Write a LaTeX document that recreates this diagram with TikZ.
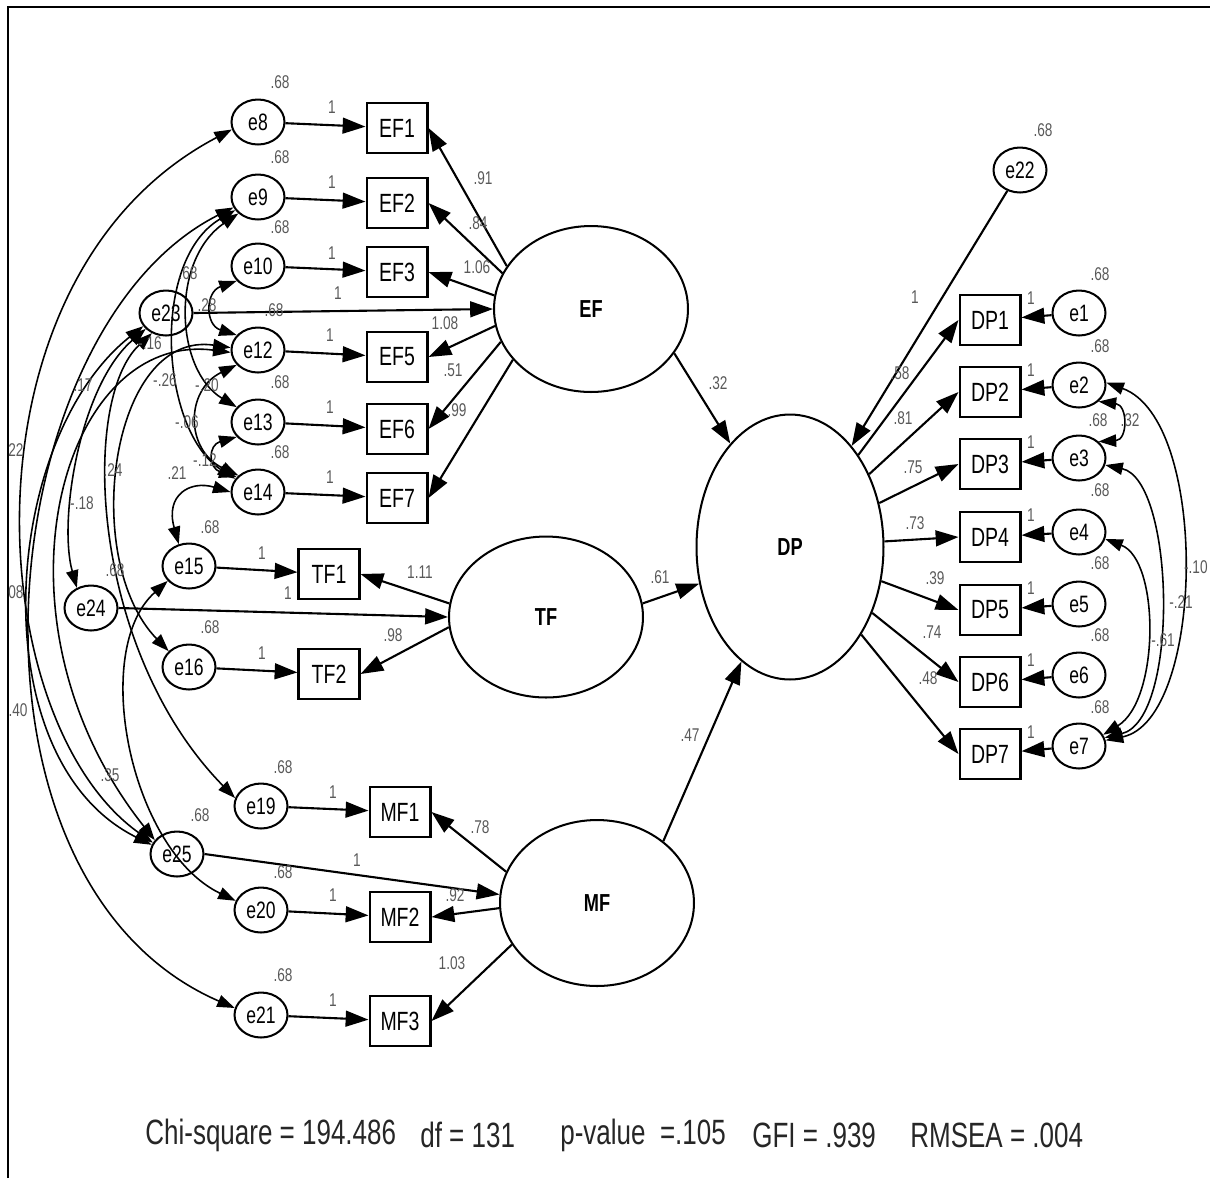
\documentclass[tikz,border=0pt]{standalone}
\usepackage{fontspec}
\setmainfont{Liberation Sans}[FakeStretch=0.74]
\usetikzlibrary{shapes.geometric,arrows.meta}
\newcounter{lblc}
\newcommand\numlab[2]{\stepcounter{lblc}\node[num] (lab\arabic{lblc}) at (#1) {#2};}
\begin{document}
\begin{tikzpicture}[x=0.02cm,y=-0.02cm,
 err/.style={ellipse,draw,line width=1.15pt,minimum width=1.06cm,minimum height=0.9cm,inner sep=0pt,font=\fontsize{13.5}{15}\selectfont},
 obs/.style={rectangle,draw,line width=1.15pt,minimum width=1.22cm,minimum height=1.0cm,inner sep=0pt,font=\fontsize{15}{17}\selectfont},
 lat/.style={ellipse,draw,line width=1.15pt,minimum width=3.88cm,minimum height=3.32cm,inner sep=0pt,font=\bfseries\fontsize{14}{16}\selectfont},
 num/.style={inner sep=0pt,text=black!65,font=\fontsize{10.5}{12}\selectfont},
 reg/.style={line width=1.2pt,-{Triangle[length=13pt,width=9pt]}},
 cov/.style={line width=0.9pt,{Triangle[length=10pt,width=7pt]}-{Triangle[length=10pt,width=7pt]}},
 stat/.style={inner sep=0pt,anchor=west,text=black!85,font=\fontsize{20}{24}\selectfont}
]
\useasboundingbox (0,0) rectangle (1210,1178);
\draw[line width=1.1pt] (8,1178) -- (8,7) -- (1210,7);

% error terms left
\node[err] (e8) at (258,122) {e8};
\node[err] (e9) at (258,197) {e9};
\node[err] (e10) at (258,266) {e10};
\node[err] (e12) at (258,350) {e12};
\node[err] (e13) at (258,422) {e13};
\node[err] (e14) at (258,492) {e14};
\node[err] (e23) at (166,313) {e23};
\node[err] (e15) at (189,566) {e15};
\node[err] (e24) at (91,608) {e24};
\node[err] (e16) at (189,667) {e16};
\node[err] (e19) at (261,806) {e19};
\node[err] (e25) at (177,854) {e25};
\node[err] (e20) at (261,910) {e20};
\node[err] (e21) at (261,1015) {e21};
\node[err] (e22) at (1020,170) {e22};
\node[err] (e1) at (1079,313) {e1};
\node[err] (e2) at (1079,385) {e2};
\node[err] (e3) at (1079,458) {e3};
\node[err] (e4) at (1079,532) {e4};
\node[err] (e5) at (1079,604) {e5};
\node[err] (e6) at (1079,675) {e6};
\node[err] (e7) at (1079,746) {e7};

% observed
\node[obs] (EF1) at (397,128) {EF1};
\node[obs] (EF2) at (397,203) {EF2};
\node[obs] (EF3) at (397,272) {EF3};
\node[obs] (EF5) at (397,357) {EF5};
\node[obs] (EF6) at (397,429) {EF6};
\node[obs] (EF7) at (397,498) {EF7};
\node[obs] (TF1) at (329,574) {TF1};
\node[obs] (TF2) at (329,674) {TF2};
\node[obs] (MF1) at (400,812) {MF1};
\node[obs] (MF2) at (400,917) {MF2};
\node[obs] (MF3) at (400,1021) {MF3};
\node[obs] (DP1) at (990,320) {DP1};
\node[obs] (DP2) at (990,392) {DP2};
\node[obs] (DP3) at (990,464) {DP3};
\node[obs] (DP4) at (990,537) {DP4};
\node[obs] (DP5) at (990,610) {DP5};
\node[obs] (DP6) at (990,682) {DP6};
\node[obs] (DP7) at (990,754) {DP7};

% latent
\node[lat] (EF) at (591,309) {EF};
\node[lat,minimum height=3.22cm] (TF) at (546,617) {TF};
\node[lat] (MF) at (597,903) {MF};
\node[lat,minimum width=3.74cm,minimum height=5.3cm] (DP) at (790,547) {DP};

% error -> indicator
\foreach \a/\b in {e8/EF1,e9/EF2,e10/EF3,e12/EF5,e13/EF6,e14/EF7,e15/TF1,e16/TF2,e19/MF1,e20/MF2,e21/MF3,e1/DP1,e2/DP2,e3/DP3,e4/DP4,e5/DP5,e6/DP6,e7/DP7}
  \draw[reg] (\a) -- (\b);

% loadings
\draw[reg] (EF.153) -- (EF1.east);
\draw[reg] (EF.158) -- (EF2.east);
\draw[reg] (EF.172) -- (EF3.east);
\draw[reg] (e23.east) -- (EF.west);
\draw[reg] (EF.190) -- (EF5.east);
\draw[reg] (EF.200) -- (EF6.east);
\draw[reg] (EF.213) -- (EF7.east);
\draw[reg] (TF.172) -- (TF1.east);
\draw[reg] (TF.186) -- (TF2.east);
\draw[reg] (e24.east) -- (TF.west);
\draw[reg] (MF.161) -- (MF1.east);
\draw[reg] (e25.east) -- (MF.175);
\draw[reg] (MF.183) -- (MF2.east);
\draw[reg] (MF.206) -- (MF3.east);
\draw[reg] (EF.332) -- (DP.120);
\draw[reg] (TF.8) -- (DP.202);
\draw[reg] (MF.43) -- (DP.247);
\draw[reg] (e22) -- (DP);
\foreach \b in {DP1,DP2,DP3,DP4,DP5,DP6,DP7}
  \draw[reg] (DP) -- (\b.west);

% covariances left
\draw[cov] (e8.196) .. controls (-45,275) and (-20,720) .. (e25.155);
\draw[cov] (e9.203) .. controls (-10,330) and (-60,880) .. (e21.165);
\draw[cov] (e23.210) .. controls (0,440) and (-20,760) .. (e25.160);
\draw[cov] (e23.218) .. controls (80,385) and (58,520) .. (e24.125);
\draw[cov] (e23.235) .. controls (80,400) and (90,650) .. (e19.163);
\draw[cov] (e12.185) .. controls (60,330) and (-20,620) .. (e25.148);
\draw[cov] (e12.175) .. controls (110,330) and (80,560) .. (e16.142);
\draw[cov] (e10.215) .. controls (205,292) and (205,325) .. (e12.145);
\draw[cov] (e9.210) .. controls (150,260) and (160,430) .. (e14.150);
\draw[cov] (e9.220) .. controls (170,260) and (175,370) .. (e13.145);
\draw[cov] (e12.215) .. controls (185,390) and (185,450) .. (e14.140);
\draw[cov] (e13.215) .. controls (208,445) and (208,468) .. (e14.145);
\draw[cov] (e14.180) .. controls (190,480) and (165,495) .. (e15.115);
\draw[cov] (e15.215) .. controls (90,650) and (130,850) .. (e20.160);

% covariances right
\draw[cov] (e2.-40) .. controls (1128,405) and (1128,440) .. (e3.40);
\draw[cov] (e2.5) .. controls (1210,420) and (1205,720) .. (e7.12);
\draw[cov] (e3.-15) .. controls (1175,480) and (1180,720) .. (e7.18);
\draw[cov] (e4.-15) .. controls (1160,560) and (1160,700) .. (e7.25);

% variances
\numlab{280,82}{.68}
\numlab{280,157}{.68}
\numlab{280,227}{.68}
\numlab{274,310}{.68}
\numlab{280,382}{.68}
\numlab{280,452}{.68}
\numlab{188,273}{.68}
\numlab{210,527}{.68}
\numlab{210,627}{.68}
\numlab{115,570}{.68}
\numlab{283,767}{.68}
\numlab{200,815}{.68}
\numlab{283,872}{.68}
\numlab{283,975}{.68}
\numlab{1043,130}{.68}
\numlab{1100,274}{.68}
\numlab{1100,346}{.68}
\numlab{1098,420}{.68}
\numlab{1100,490}{.68}
\numlab{1100,563}{.68}
\numlab{1100,635}{.68}
\numlab{1100,707}{.68}

% fixed 1s
\numlab{332,107}{1}
\numlab{332,182}{1}
\numlab{332,253}{1}
\numlab{338,293}{1}
\numlab{330,335}{1}
\numlab{330,407}{1}
\numlab{330,477}{1}
\numlab{262,553}{1}
\numlab{288,593}{1}
\numlab{262,653}{1}
\numlab{333,792}{1}
\numlab{357,860}{1}
\numlab{333,895}{1}
\numlab{333,1000}{1}
\numlab{915,297}{1}
\numlab{1031,298}{1}
\numlab{1031,370}{1}
\numlab{1031,442}{1}
\numlab{1031,515}{1}
\numlab{1031,588}{1}
\numlab{1031,660}{1}
\numlab{1031,732}{1}

% path estimates
\numlab{483,178}{.91}
\numlab{478,223}{.84}
\numlab{477,267}{1.06}
\numlab{445,323}{1.08}
\numlab{453,370}{.51}
\numlab{457,410}{.99}
\numlab{718,383}{.32}
\numlab{420,572}{1.11}
\numlab{393,635}{.98}
\numlab{660,577}{.61}
\numlab{480,827}{.78}
\numlab{455,895}{.92}
\numlab{452,963}{1.03}
\numlab{690,735}{.47}
\numlab{900,373}{.58}
\numlab{903,418}{.81}
\numlab{913,467}{.75}
\numlab{915,523}{.73}
\numlab{935,578}{.39}
\numlab{932,632}{.74}
\numlab{928,678}{.48}

% covariance estimates
\numlab{16,450}{22}
\numlab{16,592}{08}
\numlab{18,710}{.40}
\numlab{83,385}{.17}
\numlab{113,470}{.24}
\numlab{82,503}{-.18}
\numlab{110,775}{.35}
\numlab{150,343}{-.16}
\numlab{207,305}{.28}
\numlab{165,380}{-.26}
\numlab{207,385}{-.20}
\numlab{187,422}{-.06}
\numlab{205,460}{-.12}
\numlab{177,473}{.21}
\numlab{1130,420}{.32}
\stepcounter{lblc}\node[num,anchor=east] (lab\arabic{lblc}) at (1208,567) {-.10};
\numlab{1181,602}{-.21}
\numlab{1163,640}{-.61}

% fit statistics
\node[stat] (s1) at (145,1135) {Chi-square = 194.486};
\node[stat] (s2) at (420,1135) {df = 131};
\node[stat] (s3) at (560,1135) {p-value\ \ =.105};
\node[stat] (s4) at (752,1135) {GFI = .939};
\node[stat] (s5) at (910,1135) {RMSEA = .004};
\end{tikzpicture}
\end{document}
